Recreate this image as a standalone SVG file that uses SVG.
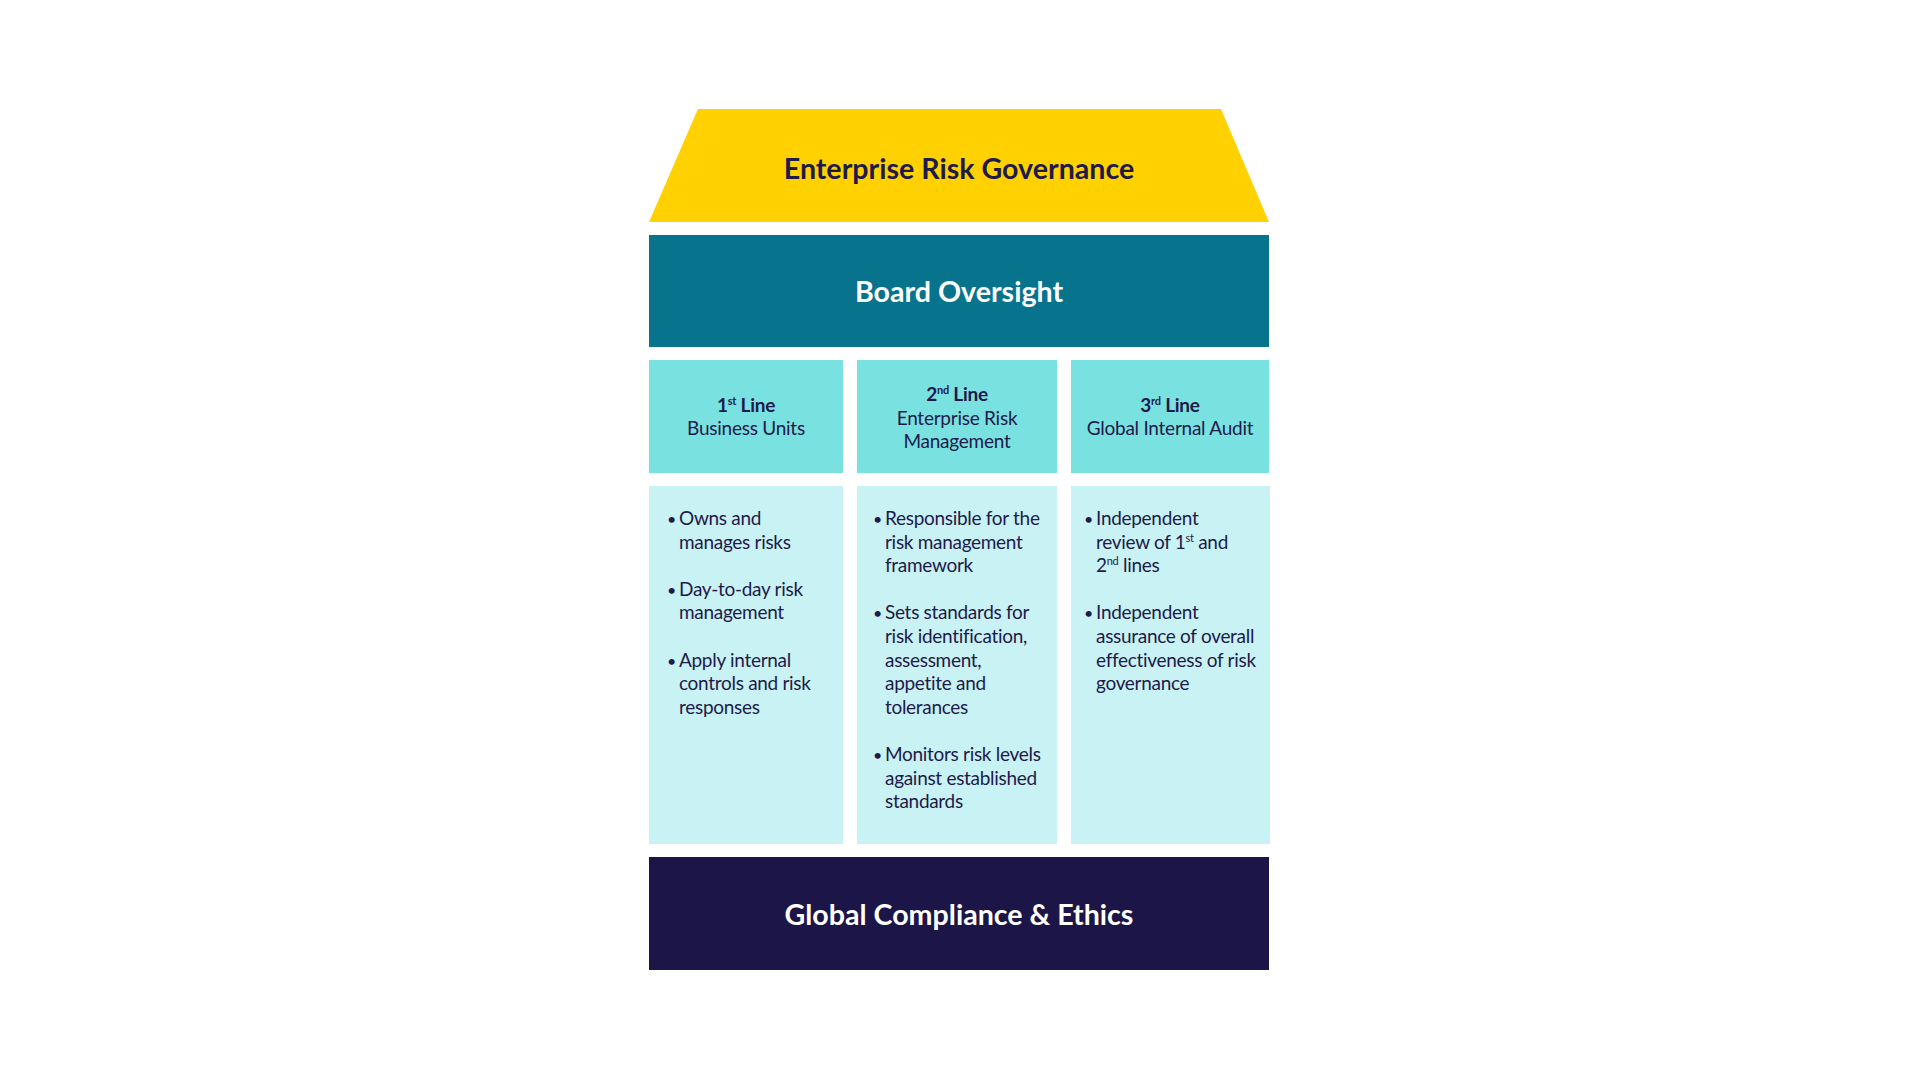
<svg xmlns="http://www.w3.org/2000/svg" width="1920" height="1080" viewBox="0 0 1920 1080">
<style>
.t{font-family:Lato,"Open Sans","Liberation Sans",sans-serif;fill:#1E1A4A}
.big{font-size:28.6px;font-weight:700;text-anchor:middle}
.w{fill:#FFFFFF}
.hd{font-size:19px;text-anchor:middle;letter-spacing:-0.25px}
.b{font-weight:700}
.body{font-size:19px;letter-spacing:-0.3px}
.bul{font-size:16px}
.sup{font-size:11px}
.hdr{fill:#7AE1E1}
.bod{fill:#C9F2F4}
</style>
<rect width="1920" height="1080" fill="#FFFFFF"/>
<g id="governance">
<polygon points="698,109 1221,109 1269,222 649,222" fill="#FFD100"/>
<text class="t big" x="959" y="179">Enterprise Risk Governance</text>
</g>
<g id="board">
<rect x="649" y="235" width="620" height="112" fill="#08738C"/>
<text class="t big w" x="959" y="302">Board Oversight</text>
</g>
<g id="line1-header">
<rect class="hdr" x="649" y="360" width="194" height="113"/>
<text class="t hd" x="746" y="412"><tspan class="b">1</tspan><tspan class="b sup" dy="-7">st</tspan><tspan class="b" dy="7"> Line</tspan></text>
<text class="t hd" x="746" y="435">Business Units</text>
</g>
<g id="line2-header">
<rect class="hdr" x="857" y="360" width="200" height="113"/>
<text class="t hd" x="957" y="401"><tspan class="b">2</tspan><tspan class="b sup" dy="-7">nd</tspan><tspan class="b" dy="7"> Line</tspan></text>
<text class="t hd" x="957" y="425">Enterprise Risk</text>
<text class="t hd" x="957" y="448">Management</text>
</g>
<g id="line3-header">
<rect class="hdr" x="1071" y="360" width="198" height="113"/>
<text class="t hd" x="1170" y="412"><tspan class="b">3</tspan><tspan class="b sup" dy="-7">rd</tspan><tspan class="b" dy="7"> Line</tspan></text>
<text class="t hd" x="1170" y="435">Global Internal Audit</text>
</g>
<g id="line1-body">
<rect class="bod" x="649" y="486" width="194" height="358"/>
<text class="t bul" x="667" y="525">•</text>
<text class="t body" x="679" y="525">Owns and</text>
<text class="t body" x="679" y="548.6">manages risks</text>
<text class="t bul" x="667" y="595.8">•</text>
<text class="t body" x="679" y="595.8">Day-to-day risk</text>
<text class="t body" x="679" y="619.4">management</text>
<text class="t bul" x="667" y="666.6">•</text>
<text class="t body" x="679" y="666.6">Apply internal</text>
<text class="t body" x="679" y="690.2">controls and risk</text>
<text class="t body" x="679" y="713.8">responses</text>
</g>
<g id="line2-body">
<rect class="bod" x="857" y="486" width="200" height="358"/>
<text class="t bul" x="873" y="525">•</text>
<text class="t body" x="885" y="525">Responsible for the</text>
<text class="t body" x="885" y="548.6">risk management</text>
<text class="t body" x="885" y="572.2">framework</text>
<text class="t bul" x="873" y="619.4">•</text>
<text class="t body" x="885" y="619.4">Sets standards for</text>
<text class="t body" x="885" y="643">risk identification,</text>
<text class="t body" x="885" y="666.6">assessment,</text>
<text class="t body" x="885" y="690.2">appetite and</text>
<text class="t body" x="885" y="713.8">tolerances</text>
<text class="t bul" x="873" y="761">•</text>
<text class="t body" x="885" y="761">Monitors risk levels</text>
<text class="t body" x="885" y="784.6">against established</text>
<text class="t body" x="885" y="808.2">standards</text>
</g>
<g id="line3-body">
<rect class="bod" x="1071" y="486" width="199" height="358"/>
<text class="t bul" x="1084" y="525">•</text>
<text class="t body" x="1096" y="525">Independent</text>
<text class="t body" x="1096" y="548.6">review of 1<tspan class="sup" dy="-7">st</tspan><tspan dy="7"> and</tspan></text>
<text class="t body" x="1096" y="572.2">2<tspan class="sup" dy="-7">nd</tspan><tspan dy="7"> lines</tspan></text>
<text class="t bul" x="1084" y="619.4">•</text>
<text class="t body" x="1096" y="619.4">Independent</text>
<text class="t body" x="1096" y="643">assurance of overall</text>
<text class="t body" x="1096" y="666.6">effectiveness of risk</text>
<text class="t body" x="1096" y="690.2">governance</text>
</g>
<g id="compliance">
<rect x="649" y="857" width="620" height="113" fill="#1C1547"/>
<text class="t big w" x="959" y="925">Global Compliance &amp; Ethics</text>
</g>
<g id="connectors"/>
</svg>
